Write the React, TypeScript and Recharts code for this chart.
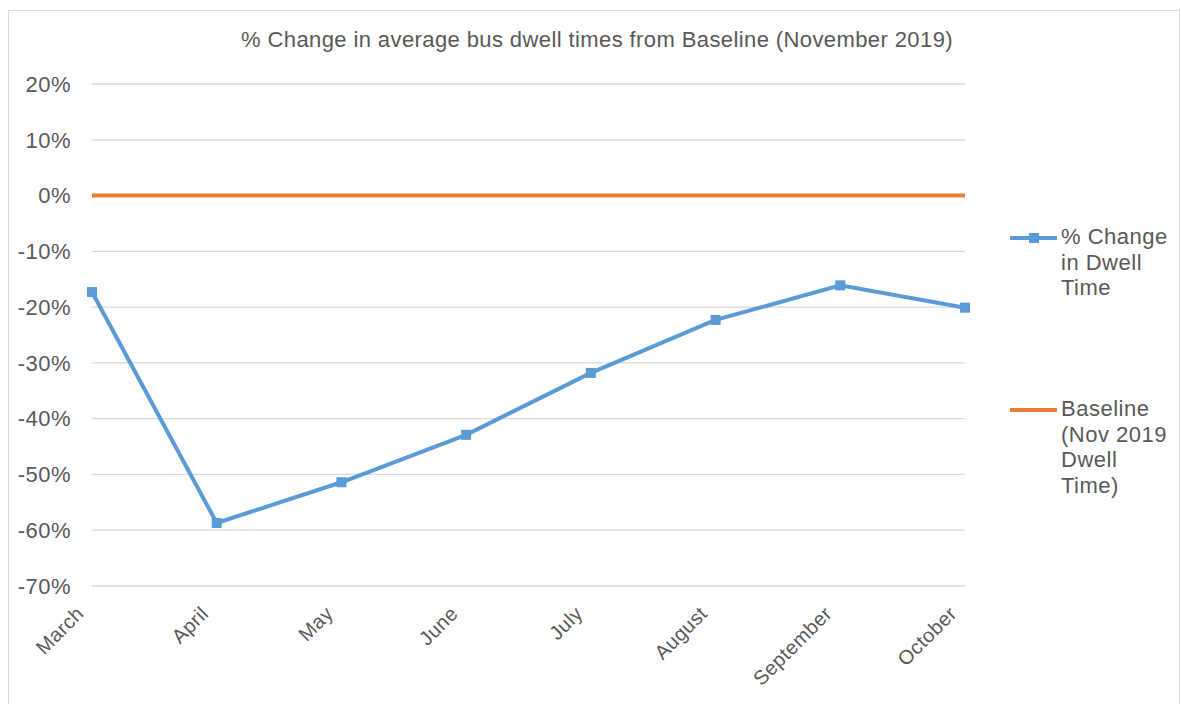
import React from "react";
import { LineChart, Line, XAxis, YAxis, CartesianGrid, Legend } from "recharts";

const months = ["March", "April", "May", "June", "July", "August", "September", "October"];
const dwellChange = [-17.3, -58.7, -51.4, -42.9, -31.8, -22.3, -16.1, -20.1];
const baseline = [0, 0, 0, 0, 0, 0, 0, 0];
const yTicks = [-70, -60, -50, -40, -30, -20, -10, 0, 10, 20];

const data = months.map((m, i) => ({
  month: m,
  change: dwellChange[i],
  baseline: baseline[i],
}));

const FONT = "'Liberation Sans', Arial, sans-serif";
const TEXT = "#595959";
const BLUE = "#5B9BD5";
const ORANGE = "#ED7D31";

function MonthTick({ x, y, payload }: any) {
  const tx = x - 12;
  return (
    <text
      x={tx}
      y={y}
      transform={`rotate(-45, ${tx}, ${y})`}
      textAnchor="end"
      dominantBaseline="central"
      fill={TEXT}
      fontSize={20}
      letterSpacing={0.4}
      fontFamily={FONT}
    >
      {payload.value}
    </text>
  );
}

function LegendBox() {
  const lineStyle = (c: string) => ({
    position: "absolute" as const,
    left: 0,
    top: 12,
    width: 47,
    height: 4,
    background: c,
  });
  const txt = {
    position: "absolute" as const,
    left: 51,
    top: 0,
    fontSize: 22,
    letterSpacing: 0.5,
    lineHeight: "25.5px",
    color: TEXT,
    fontFamily: FONT,
    whiteSpace: "nowrap" as const,
  };
  return (
    <div style={{ position: "relative", width: 0, height: 0 }}>
      <div style={{ position: "absolute", left: 0, top: 0 }}>
        <div style={lineStyle(BLUE)} />
        <div
          style={{
            position: "absolute",
            left: 19,
            top: 9,
            width: 10,
            height: 10,
            background: BLUE,
          }}
        />
        <div style={txt}>
          % Change
          <br />
          in Dwell
          <br />
          Time
        </div>
      </div>
      <div style={{ position: "absolute", left: 0, top: 172 }}>
        <div style={lineStyle(ORANGE)} />
        <div style={txt}>
          Baseline
          <br />
          (Nov 2019
          <br />
          Dwell
          <br />
          Time)
        </div>
      </div>
    </div>
  );
}

export default function App() {
  return (
    <div
      style={{
        position: "absolute",
        left: 0,
        top: 0,
        width: 1181,
        height: 704,
        background: "#fff",
        fontFamily: FONT,
      }}
    >
      <div
        style={{
          position: "absolute",
          left: 8,
          top: 10,
          width: 1170,
          height: 700,
          border: "1px solid #d9d9d9",
        }}
      />
      <div
        style={{
          position: "absolute",
          left: 0,
          top: 27,
          width: 1194,
          textAlign: "center",
          fontSize: 22,
          letterSpacing: 0.4,
          color: TEXT,
        }}
      >
        % Change in average bus dwell times from Baseline (November 2019)
      </div>
      <LineChart
        width={1181}
        height={704}
        data={data}
        margin={{ top: 84, right: 216, left: 0, bottom: 18 }}
        style={{ position: "absolute", left: 0, top: 0 }}
      >
        <CartesianGrid vertical={false} stroke="#d9d9d9" strokeWidth={1.3} />
        <XAxis
          dataKey="month"
          axisLine={false}
          tickLine={false}
          height={100}
          interval={0}
          tick={<MonthTick />}
          tickMargin={18}
        />
        <YAxis
          domain={[-70, 20]}
          ticks={yTicks}
          width={92}
          axisLine={false}
          tickLine={false}
          tickMargin={15}
          tickFormatter={(v) => `${v}%`}
          tick={{ fill: TEXT, fontSize: 22, fontFamily: FONT, letterSpacing: 0.5 }}
          interval={0}
        />
        <Legend
          content={<LegendBox />}
          wrapperStyle={{ position: "absolute", left: 1010, top: 224, width: 0, height: 0 }}
        />
        <Line
          dataKey="baseline"
          stroke={ORANGE}
          strokeWidth={4}
          dot={false}
          isAnimationActive={false}
        />
        <Line
          dataKey="change"
          stroke={BLUE}
          strokeWidth={4}
          dot={(p: any) => (
            <rect
              key={p.index}
              x={p.cx - 5}
              y={p.cy - 5}
              width={10}
              height={10}
              fill={BLUE}
            />
          )}
          isAnimationActive={false}
        />
      </LineChart>
    </div>
  );
}
